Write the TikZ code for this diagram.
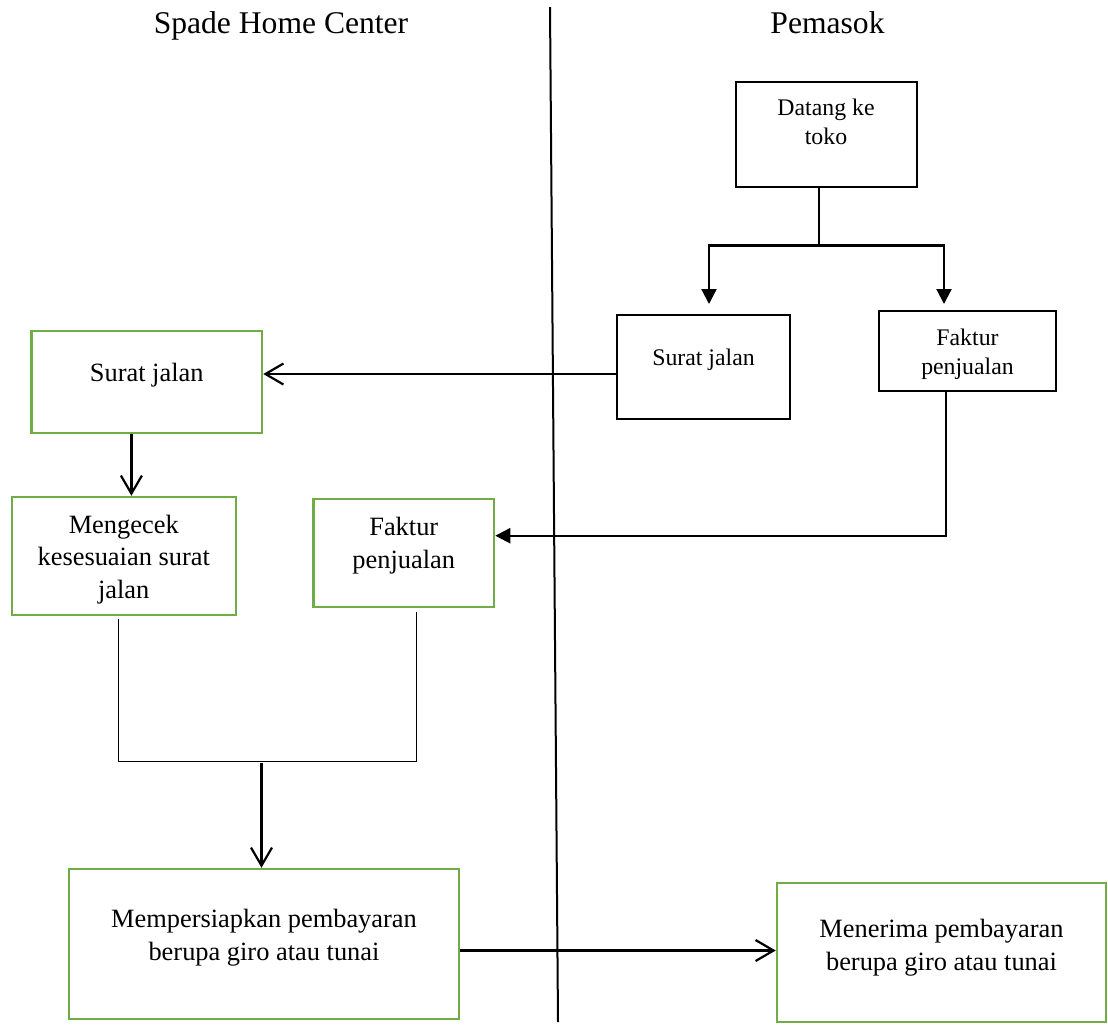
\documentclass[tikz,border=0pt]{standalone}
\usepackage{fontspec}
\setmainfont{Liberation Serif}
\usetikzlibrary{arrows.meta}
\definecolor{hijaukotak}{HTML}{70AD47}
\tikzset{
  kotak/.style={draw,line width=1pt,inner sep=0pt},
  kotakH/.style={draw=hijaukotak,line width=1.25pt,inner sep=0pt},
  teks/.style={align=center,inner sep=0pt,font=\fontsize{11.9}{14.25}\selectfont},
  teksH/.style={align=center,inner sep=0pt,font=\fontsize{13.2}{16.4}\selectfont},
  judul/.style={anchor=base,inner sep=0pt,font=\fontsize{15.8}{19}\selectfont},
  panah/.style={line width=1.1pt,-{Triangle[length=7.5pt,width=7.5pt]}},
  buka/.style={line width=1.1pt,-{Straight Barb[length=9pt,width=10.5pt]}},
  tipis/.style={line width=0.5pt}
}
\begin{document}
\begin{tikzpicture}[x=0.5pt,y=-0.5pt]
  \useasboundingbox (0,0) rectangle (1108,1025);
  %judul kolom
  \node[judul] (shc) at (281,33) {Spade Home Center};
  \node[judul] (pemasok) at (827.5,33) {Pemasok};
  \coordinate (batasA) at (550,7);
  \coordinate (batasB) at (558,1022);
  \draw[line width=1pt] (batasA) -- (batasB);
  %kotak pemasok
  \node[kotak,minimum width=90.5pt,minimum height=52.5pt] (datang) at (826,134) {};
  \node[teks,yshift=6pt] (datangT) at (datang) {Datang ke\\toko};
  \node[kotak,minimum width=86.5pt,minimum height=52pt] (suratP) at (703.5,367) {};
  \node[teks,yshift=3.5pt] (suratPT) at (suratP) {Surat jalan};
  \node[kotak,minimum width=88.5pt,minimum height=40pt] (fakturP) at (967.5,351) {};
  \node[teks,yshift=-1.75pt] (fakturPT) at (fakturP) {Faktur\\penjualan};
  \node[kotakH,minimum width=164.5pt,minimum height=69.5pt] (terima) at (941.5,952.5) {};
  \node[teksH,yshift=2.5pt] (terimaT) at (terima) {Menerima pembayaran\\berupa giro atau tunai};
  %kotak spade home center
  \node[kotakH,minimum width=115.3pt,minimum height=51pt] (suratK) at (146.7,382) {};
  \node[teksH,yshift=3.5pt] (suratKT) at (suratK) {Surat jalan};
  \node[kotakH,minimum width=112pt,minimum height=59pt] (cek) at (123.75,556) {};
  \node[teksH,yshift=-1.75pt] (cekT) at (cek) {Mengecek\\kesesuaian surat\\jalan};
  \node[kotakH,minimum width=90.2pt,minimum height=54pt] (fakturK) at (403.8,553) {};
  \node[teksH,yshift=3.75pt] (fakturKT) at (fakturK) {Faktur\\penjualan};
  \node[kotakH,minimum width=195pt,minimum height=75pt] (bayar) at (264,944) {};
  \node[teksH,yshift=3.25pt] (bayarT) at (bayar) {Mempersiapkan pembayaran\\berupa giro atau tunai};
  %panah
  \coordinate (ujungSJ) at (709,304);
  \coordinate (ujungFK) at (944,304);
  \draw[line width=1.1pt] (datang.south -| 819,0) -- (819,245.5) coordinate (cabang);
  \draw[panah] (cabang) -| (ujungSJ);
  \draw[panah] (cabang) -| (ujungFK);
  \draw[buka] (suratP.west |- 0,374) -- (suratK.east |- 0,374);
  \draw[buka] (suratK.south -| 131.4,0) -- (cek.north -| 131.4,0);
  \draw[panah] (fakturP.south -| 946,0) |- (fakturK.east |- 0,535.7);
  \coordinate (ujungKi) at (118,619);
  \coordinate (ujungKa) at (416,612);
  \coordinate (gabungKa) at (416,761);
  \draw[tipis] (ujungKi) |- (gabungKa) -- (ujungKa);
  \coordinate (gabung) at (261.5,763);
  \draw[buka] (gabung) -- (bayar.north -| gabung);
  \draw[buka] (bayar.east |- 0,950.5) -- (terima.west |- 0,950.5);
\end{tikzpicture}
\end{document}
